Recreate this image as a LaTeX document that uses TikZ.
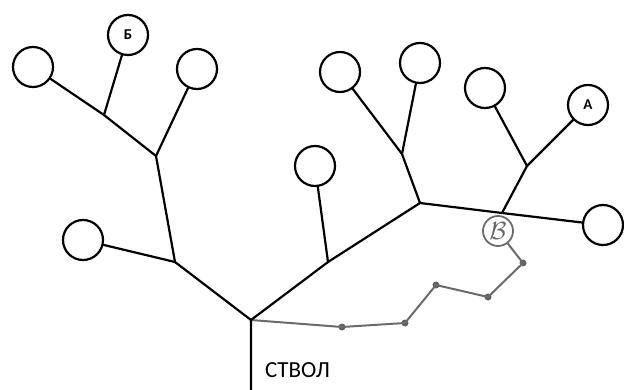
\documentclass[tikz,border=0pt]{standalone}
\usepackage{fontspec}
\setmainfont{Carlito}
\begin{document}
\begin{tikzpicture}[x=1pt,y=-1pt,
  br/.style={line width=2.2pt,line cap=round},
  leaf/.style={circle,draw,line width=2.2pt,minimum size=40pt,inner sep=0pt,font=\fontsize{15}{15}\selectfont\bfseries},
  gline/.style={draw=black!58,line width=2pt,line join=round},
  gdot/.style={circle,fill=black!62,minimum size=7pt,inner sep=0pt},
  gcirc/.style={circle,draw=black!58,line width=1.8pt,minimum size=30pt,inner sep=0pt,text=black!60}]
\useasboundingbox (0,0) rectangle (624,390);
% leaves
\node[leaf] (c1) at (33,67) {};
\node[leaf] (cB) at (128,35) {Б};
\node[leaf] (c3) at (197,69) {};
\node[leaf] (c4) at (83,240) {};
\node[leaf] (c5) at (315,166) {};
\node[leaf] (c6) at (340,72) {};
\node[leaf] (c7) at (420,63) {};
\node[leaf] (c8) at (485,88) {};
\node[leaf] (cA) at (588,105) {А};
\node[leaf] (c9) at (603,225) {};
% junctions
\coordinate (j0) at (251,320);
\coordinate (t) at (251,392);
\coordinate (j1) at (175,262);
\coordinate (j2) at (156,156);
\coordinate (j3) at (104,115);
\coordinate (j4) at (328,262);
\coordinate (j5) at (420,203);
\coordinate (j6) at (402,154);
\coordinate (j7) at (502,213);
\coordinate (j8) at (527,166);
% gray path
\node[gcirc] (gB) at (498,231) {\fontsize{25}{25}\selectfont$\mathcal{B}$};
\node[gdot] (g1) at (523,263) {};
\node[gdot] (g2) at (488,297) {};
\node[gdot] (g3) at (436,285) {};
\node[gdot] (g4) at (405,323) {};
\node[gdot] (g5) at (342,327) {};
\draw[gline] (gB) -- (g1.center) -- (g2.center) -- (g3.center) -- (g4.center) -- (g5.center) -- (j0);
% branches
\draw[br] (t) -- (j0) -- (j1) -- (j2) -- (j3);
\draw[br] (j1) -- (c4);
\draw[br] (j2) -- (c3);
\draw[br] (j3) -- (c1);
\draw[br] (j3) -- (cB);
\draw[br] (j0) -- (j4) -- (j5) -- (j7) -- (c9);
\draw[br] (j4) -- (c5);
\draw[br] (j5) -- (j6) -- (c6);
\draw[br] (j6) -- (c7);
\draw[br] (j7) -- (j8) -- (c8);
\draw[br] (j8) -- (cA);
% label
\node[anchor=base west,font=\fontsize{23}{23}\selectfont,inner sep=0pt] (lbl) at (265,377) {СТВОЛ};
\end{tikzpicture}
\end{document}
